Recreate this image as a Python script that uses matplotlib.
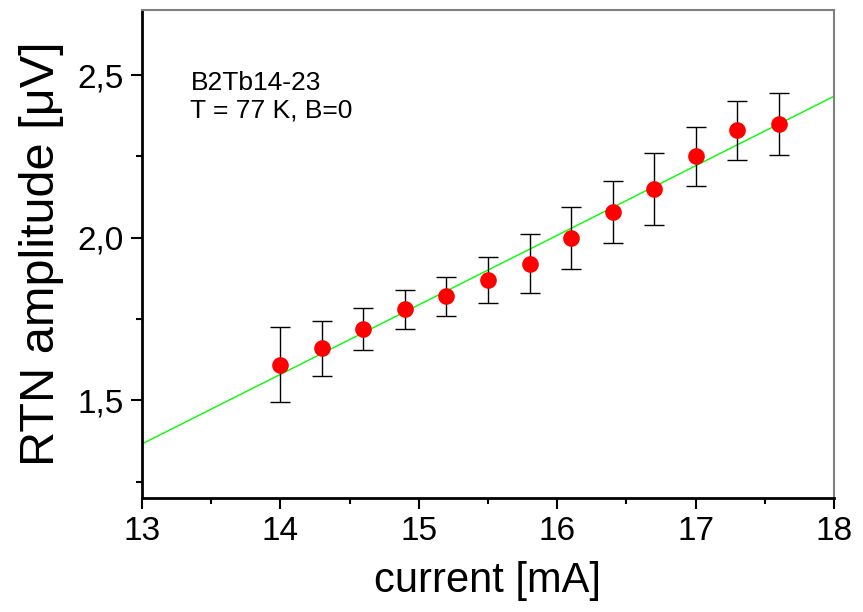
import matplotlib
matplotlib.use("Agg")
import matplotlib.pyplot as plt
import numpy as np
from matplotlib.ticker import MultipleLocator, FuncFormatter

plt.rcParams['font.family'] = ['Liberation Sans', 'DejaVu Sans']

# RTN amplitude vs bias current, sample B2Tb14-23 at 77 K
current = np.array([14.0, 14.3, 14.6, 14.9, 15.2, 15.5, 15.8, 16.1, 16.4, 16.7, 17.0, 17.3, 17.6])
amplitude = np.array([1.61, 1.66, 1.72, 1.78, 1.82, 1.87, 1.92, 2.00, 2.08, 2.15, 2.25, 2.33, 2.35])
amp_err = np.array([0.115, 0.085, 0.065, 0.06, 0.06, 0.07, 0.09, 0.095, 0.095, 0.11, 0.09, 0.09, 0.095])

# linear fit through the points
slope, intercept = np.polyfit(current, amplitude, 1)
x_fit = np.array([13.0, 18.0])
y_fit = intercept + slope * x_fit

fig = plt.figure(figsize=(8.63, 6.12), dpi=100)
ax = fig.add_axes([0.1645, 0.1863, 0.8019, 0.7974])

ax.plot(x_fit, y_fit, '-', color='#00ff00', lw=1.0, zorder=2)
ax.errorbar(current, amplitude, yerr=amp_err, fmt='none', ecolor='black',
            elinewidth=1.0, capsize=7, capthick=1.0, zorder=3)
ax.plot(current, amplitude, 'o', color='#ff0000', ms=12, mec='none', zorder=4)

ax.set_xlim(13, 18)
ax.set_ylim(1.2, 2.7)
ax.xaxis.set_major_locator(MultipleLocator(1))
ax.xaxis.set_minor_locator(MultipleLocator(0.5))
ax.yaxis.set_major_locator(MultipleLocator(0.5))
ax.yaxis.set_minor_locator(MultipleLocator(0.25))
ax.yaxis.set_major_formatter(FuncFormatter(lambda v, p: ('%.1f' % v).replace('.', ',')))

ax.tick_params(which='both', direction='out', top=False, right=False, width=1.5)
ax.tick_params(which='major', length=8, labelsize=24, pad=5)
ax.tick_params(which='minor', length=4)

for side in ['left', 'bottom']:
    ax.spines[side].set_linewidth(2.0)
    ax.spines[side].set_color('black')
for side in ['top', 'right']:
    ax.spines[side].set_linewidth(1.5)
    ax.spines[side].set_color('#7f7f7f')

ax.set_xlabel('current [mA]', fontsize=30, labelpad=10)
ax.set_ylabel('RTN amplitude [\u03bcV]', fontsize=35, labelpad=10)

ax.text(0.07, 0.77, 'B2Tb14-23\nT = 77 K, B=0', transform=ax.transAxes,
        fontsize=19, linespacing=1.15, va='bottom', ha='left')

fig.savefig('out.png', dpi=100)
